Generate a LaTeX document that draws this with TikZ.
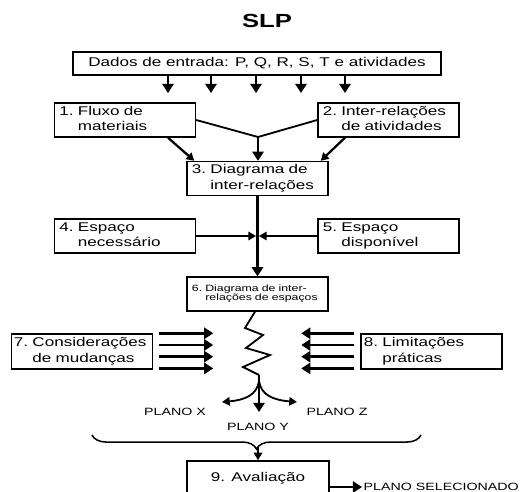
\documentclass[tikz,border=0pt]{standalone}
\usepackage{fontspec}
\setmainfont{Liberation Sans}[FakeStretch=1.35]
\usetikzlibrary{arrows.meta,decorations.pathreplacing,calc}

\newcommand{\numlbl}[3]{\begin{tabular}{@{}l@{\ }l@{}}#1&#2\\&#3\end{tabular}}

\tikzset{
  frame/.style={draw, line width=1pt, inner ysep=0pt},
  box/.style={frame, minimum width=3.525cm, minimum height=0.85cm,
    text width=3.275cm, inner xsep=0.125cm, align=left,
    font=\fontsize{9}{10.7}\selectfont},
  arr/.style={-{Triangle[length=5.5pt,width=6pt]}, line width=1.3pt},
  bigarr/.style={-{Triangle[length=6.5pt,width=8pt]}, line width=2.1pt},
  lbl/.style={font=\fontsize{7.5}{9}\selectfont},
}

\begin{document}
\begin{tikzpicture}[x=0.025cm, y=-0.025cm]
  \useasboundingbox (0,0) rectangle (525,492);
  \node[font=\bfseries\fontsize{13.5}{16}\selectfont] (title) at (267,21) {SLP};
  \node[frame, minimum width=9.2cm, minimum height=0.575cm,
    font=\fontsize{9}{10.7}\selectfont] (dados) at (257,63.5)
    {Dados de entrada: P, Q, R, S, T e atividades};

  % boxes
  \node[box] (fluxo) at (125,120) {\numlbl{1.}{Fluxo de}{materiais}};
  \node[box] (inter) at (388.5,120) {\numlbl{2.}{Inter-relações}{de atividades}};
  \node[box] (diag) at (257.5,178.5) {\numlbl{3.}{Diagrama de}{inter-relações}};
  \node[box] (nec) at (125,236) {\numlbl{4.}{Espaço}{necessário}};
  \node[box] (disp) at (388.5,236) {\numlbl{5.}{Espaço}{disponível}};
  \node[box, font=\fontsize{6.5}{6.8}\selectfont] (esp) at (257.5,294)
    {\numlbl{6.}{Diagrama de inter-}{relações de espaços}};
  \node[box, minimum height=0.875cm, inner xsep=0.05cm, text width=3.4cm] (mud) at (82,351.5)
    {\numlbl{7.}{Considerações}{de mudanças}};
  \node[box, minimum height=0.875cm, inner xsep=0.075cm, text width=3.375cm] (prat) at (431.5,351.5)
    {\numlbl{8.}{Limitações}{práticas}};
  \node[box, minimum width=3.55cm, align=center] (aval) at (258,478) {9. Avaliação};

  % input arrows
  \foreach \x [count=\i] in {168,211,256,301,345}{
    \coordinate (d\i) at (\x,93);
    \draw[bigarr] (dados.south -| d\i) -- (d\i);
  }

  \coordinate (j) at (258,137);
  \draw[line width=1.3pt] (fluxo.east) -- (j) -- (inter.west);
  \draw[bigarr] (j) -- (j |- diag.north);
  \draw[arr, line width=1.6pt] (fluxo.south -| d1) -- ([xshift=0.2cm]diag.north west);
  \draw[arr, line width=1.6pt] (inter.south -| d5) -- ([xshift=-0.2cm]diag.north east);

  \draw[bigarr] (diag.south) -- (esp.north);
  \coordinate (m) at (diag.south |- nec.east);
  \draw[arr] (nec.east) -- ([xshift=-1pt]m);
  \draw[arr] (disp.west) -- ([xshift=1pt]m);

  % zigzag
  \draw[line width=1.3pt] (esp.south) ++(-2.5,0) -- (245,328) -- (263,335) -- (246,348)
    -- (270,355) -- (243,367) -- (259,375) coordinate (z);
  \foreach \k in {0,...,3}{
    \draw[bigarr] ([shift={(6,11.7*\k)}]mud.north east) -- ++(54,0);
    \draw[bigarr] ([shift={(-6,11.7*\k)}]prat.north west) -- ++(-53,0);
  }

  % plans
  \node[lbl] (plx) at (175,412) {PLANO X};
  \node[lbl] (plz) at (337,412) {PLANO Z};
  \node[lbl] (ply) at (258,427) {PLANO Y};
  \coordinate (py) at (259,412);
  \coordinate (bx) at (259,381);
  \coordinate (xl) at (222,402);
  \coordinate (xr) at (297,402);
  \draw[bigarr] (z) -- (py);
  \draw[arr] (bx) .. controls (257,395) and (245,400) .. (xl);
  \draw[arr] (bx) .. controls (261,395) and (273,400) .. (xr);

  \coordinate (bl) at (92,435);
  \coordinate (br) at (421,435);
  \coordinate (bt) at (258,447);
  \draw[decorate, decoration={brace, amplitude=10pt}, line width=1.1pt] (br) -- (bl);
  \draw[arr] (bt) -- (aval.north);

  \node[lbl, anchor=west, inner xsep=1pt] (sel) at (362,487) {PLANO SELECIONADO};
  \draw[bigarr] (aval.east |- sel.west) -- (sel.west);
\end{tikzpicture}
\end{document}
